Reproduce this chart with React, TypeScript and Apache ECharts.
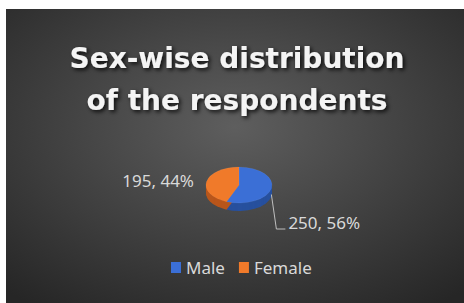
import React, { useEffect, useRef } from "react";
import * as echarts from "echarts";

const titleLines = ["Sex-wise distribution", "of the respondents"];
const categories = ["Male", "Female"];
const values = [250, 195];
const topColors = ["#3b6fd6", "#f07a2a"];
const sideColors = ["#27509e", "#b8561b"];

export default function App() {
  const ref = useRef<HTMLDivElement>(null);
  useEffect(() => {
    if (!ref.current) return;
    const chart = echarts.init(ref.current, undefined, { renderer: "svg" });
    const total = values.reduce((a, b) => a + b, 0);
    const cx = 239, cy = 185, rx = 33, ry = 18, depth = 8;
    const k = ry / rx;
    const labelFont = "17px 'Noto Sans'";

    const makeRender = (si: number) => (params: any, api: any) => {
      const v = api.value(0);
      let before = 0;
      for (let j = 0; j < si; j++) before += values[j];
      const a0 = -Math.PI / 2 + (before / total) * Math.PI * 2;
      const a1 = a0 + (v / total) * Math.PI * 2;
      const children: any[] = [];
      for (let d = depth; d >= 1; d--) {
        children.push({
          type: "group", x: cx, y: cy + d, scaleY: k, z2: 1,
          children: [{ type: "sector", z2: 1, shape: { cx: 0, cy: 0, r: rx, r0: 0, startAngle: a0, endAngle: a1, clockwise: true }, style: { fill: sideColors[si] } }],
        });
      }
      children.push({
        type: "group", x: cx, y: cy, scaleY: k, z2: 10,
        children: [{ type: "sector", z2: 10, shape: { cx: 0, cy: 0, r: rx, r0: 0, startAngle: a0, endAngle: a1, clockwise: true }, style: { fill: topColors[si], stroke: "rgba(255,255,255,0.15)", lineWidth: 0.5 } }],
      });
      const mid = (a0 + a1) / 2;
      const pct = Math.round((v / total) * 100);
      const txt = `${v}, ${pct}%`;
      const lx = cx + rx * Math.cos(mid);
      if (Math.cos(mid) > 0) {
        const sx = lx, sy = cy + ry * Math.sin(mid) + 6;
        children.push({
          type: "polyline", z2: 20,
          shape: { points: [[sx, sy], [sx + 5, 229], [sx + 14, 229]] },
          style: { stroke: "#bfbfbf", lineWidth: 1, fill: null },
        });
        children.push({
          type: "text", z2: 20, x: sx + 17, y: 222,
          style: { text: txt, fill: "#d9d9d9", font: labelFont, align: "left", verticalAlign: "middle" },
        });
      } else {
        children.push({
          type: "text", z2: 20, x: cx - rx - 12, y: 180,
          style: { text: txt, fill: "#d9d9d9", font: labelFont, align: "right", verticalAlign: "middle" },
        });
      }
      return { type: "group", children };
    };

    chart.setOption({
      animation: false,
      graphic: [
        {
          type: "rect", z: -10, shape: { x: 6, y: 9, width: 458, height: 294 },
          style: {
            fill: {
              type: "radial", x: 0.5, y: 0.4, r: 0.75,
              colorStops: [{ offset: 0, color: "#5e5e5e" }, { offset: 1, color: "#262626" }],
            },
          },
        },
      ],
      title: {
        text: titleLines.join("\n"),
        left: 232, top: 32, textAlign: "center",
        textStyle: {
          fontFamily: "'DejaVu Sans'", fontWeight: "bold", fontSize: 28, lineHeight: 42,
          color: "#f4f4f4", textShadowColor: "rgba(0,0,0,0.85)", textShadowBlur: 4,
          textShadowOffsetX: 2, textShadowOffsetY: 2,
        },
      },
      legend: {
        data: categories, left: 166, top: 254, icon: "rect", itemWidth: 10, itemHeight: 11,
        itemGap: 14, textStyle: { color: "#d9d9d9", fontSize: 17, fontFamily: "'Noto Sans'", padding: [0, 0, 0, 0] },
      },
      series: categories.map((name, i) => ({
        type: "custom", name, coordinateSystem: "none", z: 2,
        itemStyle: { color: topColors[i] },
        data: [[values[i]]],
        renderItem: makeRender(i),
      })),
    });
    return () => chart.dispose();
  }, []);
  return <div ref={ref} style={{ width: 464, height: 303, position: "absolute", left: 0, top: 0 }} />;
}
